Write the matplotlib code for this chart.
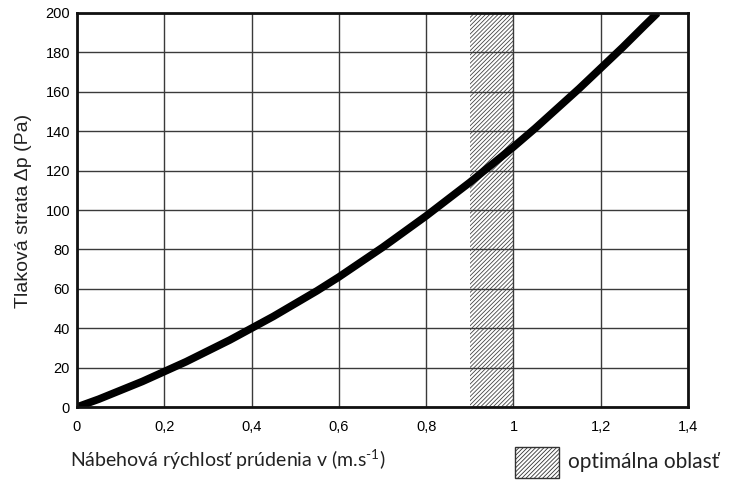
import matplotlib
matplotlib.use('Agg')
import matplotlib.pyplot as plt
from matplotlib.patches import Rectangle

# data
v = [0.0, 0.05, 0.1, 0.15, 0.2, 0.25, 0.3, 0.35, 0.4, 0.45, 0.5, 0.55, 0.6,
     0.65, 0.7, 0.75, 0.8, 0.85, 0.9, 0.95, 1.0, 1.05, 1.1, 1.15, 1.2,
     1.25, 1.3, 1.33]
dp = [0, 4, 8.5, 13, 18, 23, 28.5, 34, 40, 46, 52.5, 59, 66,
      73.5, 81, 89, 97, 105.5, 114, 123, 132, 141.5, 151.5, 161.5, 172,
      182.5, 193.5, 200]
optimum = (0.9, 1.0)
x_ticks = [0, 0.2, 0.4, 0.6, 0.8, 1.0, 1.2, 1.4]
x_labels = ['0', '0,2', '0,4', '0,6', '0,8', '1', '1,2', '1,4']
y_ticks = list(range(0, 201, 20))

plt.rcParams['font.family'] = ['Liberation Sans', 'DejaVu Sans']
plt.rcParams['mathtext.fontset'] = 'custom'
plt.rcParams['mathtext.rm'] = 'Lato'
plt.rcParams['mathtext.it'] = 'Lato'
plt.rcParams['mathtext.sf'] = 'Lato'
plt.rcParams['hatch.linewidth'] = 0.6
plt.rcParams['hatch.color'] = '#444444'

fig = plt.figure(figsize=(7.29, 4.8), dpi=100)
ax = fig.add_axes([0.1056, 0.152, 0.8382, 0.821])

# optimalna oblast
ax.axvspan(optimum[0], optimum[1], facecolor='white', edgecolor='#444444',
           hatch='////////', linewidth=0, zorder=1)

ax.plot(v, dp, color='black', lw=5.5, solid_capstyle='butt',
        solid_joinstyle='round', zorder=3)

ax.set_xlim(0, 1.4)
ax.set_ylim(0, 200)
ax.set_xticks(x_ticks)
ax.set_xticklabels(x_labels)
ax.set_yticks(y_ticks)
ax.grid(True, color='#3a3a3a', lw=1.0, zorder=2)
ax.set_axisbelow(False)
for s in ax.spines.values():
    s.set_linewidth(2)
    s.set_color('#111111')
    s.set_zorder(4)
ax.tick_params(length=0, labelsize=10.5, pad=5)
ax.tick_params(axis='x', pad=9)

fig.text(24 / 729, 1 - 211 / 480, 'Tlaková strata Δp (Pa)', fontsize=14,
         rotation=90, ha='center', va='center', color='#222222')
fig.text(70 / 729, 1 - 460 / 480,
         r'Nábehová rýchlosť prúdenia v (m.s$^{\text{-1}}$)',
         fontsize=14, family=['Lato', 'DejaVu Sans'], color='#222222',
         ha='left', va='center')

# legenda
leg_ax = fig.add_axes([0, 0, 1, 1], facecolor='none')
leg_ax.set_xlim(0, 729)
leg_ax.set_ylim(480, 0)
leg_ax.axis('off')
leg_ax.add_patch(Rectangle((515, 447), 44, 31, facecolor='white',
                           edgecolor='#333333', hatch='////////', lw=1))
leg_ax.text(568, 462, 'optimálna oblasť', fontsize=15,
            family=['Lato', 'DejaVu Sans'], color='#222222', va='center')

plt.savefig('out.png', dpi=100)
plt.close()
